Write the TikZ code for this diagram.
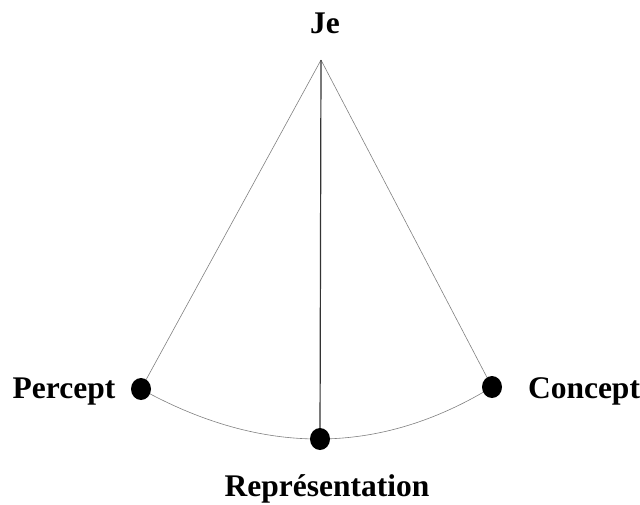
\documentclass[tikz,border=0pt]{standalone}
\usepackage{fontspec}
\setmainfont{Liberation Serif}
\usetikzlibrary{shapes.geometric,backgrounds}
\begin{document}
\begin{tikzpicture}[x=1pt,y=-1pt,
  lbl/.style={font=\fontsize{31.5}{34}\selectfont\bfseries, inner sep=0pt, anchor=base},
  dot/.style={ellipse, fill=black, minimum width=20pt, minimum height=22pt, inner sep=0pt},
  side/.style={draw=gray, line width=0.6pt},
  stem/.style={draw=black!80, line width=1.2pt}]
\useasboundingbox (0,0) rectangle (640,504);
\coordinate (apex) at (321,60);
\node[dot] (p) at (141,389) {};
\node[dot] (c) at (492,387) {};
\node[dot] (r) at (320,439) {};
\node[lbl] (je) at (325,33) {Je};
\node[lbl] (pl) at (64,398) {Percept};
\node[lbl] (cl) at (584,398) {Concept};
\node[lbl] (rl) at (327,496) {Représentation};
\begin{pgfonlayer}{background}
\draw[side] (apex) -- (p.center);
\draw[side] (apex) -- (c.center);
\draw[side] (p.center) .. controls (262.7,456.3) and (379.7,455.7) .. (c.center);
\draw[stem] (apex) -- (r.center);
\end{pgfonlayer}
\end{tikzpicture}
\end{document}
